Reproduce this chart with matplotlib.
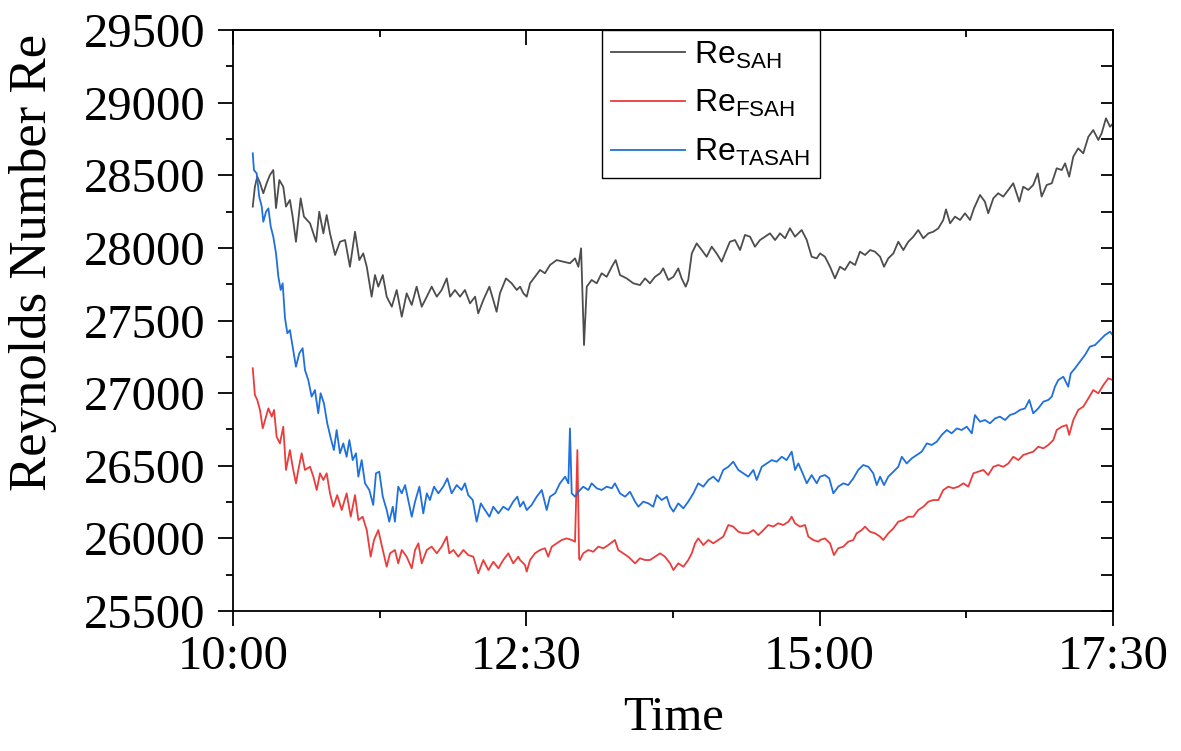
import matplotlib
matplotlib.use("Agg")
import matplotlib.pyplot as plt
from matplotlib.ticker import MultipleLocator

plt.rcParams['font.family'] = 'Liberation Serif'

# minutes after 10:00 and Reynolds number
sah_min = [10.1, 11.2, 12.4, 13.8, 15.5, 17.2, 18.9, 20.6, 22.0, 23.7, 25.7, 27.1, 29.1, 30.5,
           32.2, 34.6, 36.3, 39.4, 42.5, 44.1, 46.2, 47.9, 49.6, 52.2, 54.7, 57.3, 59.8, 62.4,
           64.6, 66.6, 68.4, 70.9, 72.6, 74.3, 76.6, 78.6, 81.2, 83.7, 86.3, 88.8, 91.4, 93.9,
           96.5, 99.1, 101.6, 104.2, 106.7, 109.3, 111.0, 113.5, 116.1, 118.6, 121.2, 123.8,
           125.4, 128.0, 131.1, 133.1, 134.8, 136.5, 139.6, 142.5, 145.1, 146.8, 148.5, 150.2,
           151.9, 154.4, 157.0, 159.5, 162.1, 165.5, 168.9, 172.3, 174.9, 176.6, 178.0, 179.5,
           180.9, 183.4, 186.0, 188.5, 191.1, 193.7, 195.7, 197.9, 201.3, 204.7, 208.1, 210.7,
           213.2, 215.8, 218.4, 220.0, 222.6, 225.2, 227.7, 229.4, 231.5, 232.8, 234.6, 237.1,
           239.7, 242.2, 244.8, 247.3, 249.9, 251.6, 254.1, 256.7, 259.3, 261.8, 264.4, 266.9,
           269.5, 272.0, 274.6, 277.2, 279.7, 282.3, 284.8, 287.4, 290.8, 293.4, 295.9, 298.5,
           300.2, 302.7, 305.3, 307.8, 310.4, 312.9, 315.5, 318.1, 320.6, 323.2, 325.8, 328.3,
           330.9, 332.9, 335.1, 337.7, 340.2, 342.8, 345.3, 347.9, 350.4, 353.0, 355.6, 358.1,
           360.7, 363.2, 364.6, 366.7, 369.2, 371.8, 374.3, 376.9, 378.9, 382.0, 384.5, 386.2,
           388.8, 391.3, 393.9, 396.5, 399.0, 402.1, 404.1, 406.7, 409.2, 411.5, 413.5, 416.1,
           418.7, 421.2, 423.8, 425.5, 427.6, 429.7, 432.2, 434.8, 437.4, 439.9, 442.5, 444.2,
           446.4, 448.5, 450.0]
sah_re = [28284, 28421, 28490, 28447, 28376, 28445, 28502, 28536, 28274, 28467, 28421, 28284, 28330, 28215,
          28042, 28341, 28215, 28169, 28042, 28249, 28100, 28226, 28100, 27951, 28042, 28054, 27870, 28111,
          27916, 27962, 27870, 27664, 27813, 27733, 27813, 27664, 27595, 27710, 27526, 27687, 27607, 27733,
          27595, 27664, 27733, 27664, 27710, 27790, 27664, 27710, 27664, 27710, 27618, 27664,
          27549, 27641, 27733, 27641, 27560, 27687, 27790, 27756, 27710, 27733, 27687, 27664,
          27756, 27801, 27848, 27825, 27882, 27916, 27905, 27894, 27928, 27870, 27997, 27331,
          27733, 27779, 27756, 27825, 27801, 27870, 27916, 27813, 27790, 27756, 27744, 27790,
          27756, 27801, 27825, 27859, 27779, 27801, 27859, 27790, 27733, 27779, 27962, 28031,
          27985, 27939, 28008, 27962, 27905, 27962, 28042, 28054, 27985, 28089, 28077, 28008,
          28054, 28077, 28100, 28054, 28100, 28066, 28135, 28077, 28123, 28054, 27939, 27928,
          27962, 27939, 27870, 27790, 27870, 27848, 27905, 27882, 27974, 27951, 27985, 27974,
          27939, 27870, 27928, 27962, 28042, 27985, 28042, 28077, 28123, 28066, 28100, 28111,
          28135, 28192, 28265, 28169, 28215, 28192, 28238, 28192, 28272, 28364, 28318, 28238,
          28341, 28376, 28353, 28399, 28445, 28318, 28421, 28399, 28433, 28513, 28353, 28433,
          28445, 28548, 28536, 28582, 28490, 28628, 28685, 28651, 28765, 28811, 28743, 28789,
          28892, 28834, 28857]

fsah_min = [10.1, 11.2, 12.4, 13.8, 15.2, 16.4, 18.1, 19.8, 21.0, 22.3, 24.0, 25.7, 27.1, 29.1,
            30.5, 32.2, 33.4, 35.1, 36.8, 39.4, 41.1, 42.8, 44.5, 46.2, 47.9, 49.6, 51.3, 53.3,
            55.6, 58.1, 60.2, 62.4, 64.1, 66.3, 68.4, 70.4, 72.1, 74.3, 76.6, 78.6, 80.3, 82.8,
            84.5, 86.3, 88.8, 91.4, 93.1, 94.8, 96.5, 99.1, 101.6, 104.2, 106.7, 109.3, 110.6,
            112.7, 115.2, 117.8, 120.3, 122.9, 125.4, 128.0, 130.6, 133.1, 135.7, 138.2, 140.8,
            143.3, 145.9, 146.8, 149.3, 150.2, 151.9, 154.4, 157.0, 159.5, 161.2, 163.0, 165.5,
            168.1, 170.6, 173.2, 174.9, 176.1, 177.0, 177.4, 179.1, 181.7, 184.2, 186.8, 189.4,
            191.9, 195.3, 197.0, 199.6, 202.1, 205.6, 208.1, 210.7, 213.2, 215.8, 218.4, 220.9,
            223.5, 225.2, 227.7, 230.3, 232.8, 234.6, 236.3, 237.9, 240.5, 243.1, 245.6, 248.2,
            250.7, 253.3, 255.8, 258.4, 260.9, 263.5, 266.1, 268.6, 271.2, 273.7, 276.3, 278.8,
            281.4, 284.0, 285.7, 287.4, 289.9, 292.5, 294.2, 296.7, 299.3, 300.2, 302.7, 305.3,
            307.3, 309.5, 312.1, 314.6, 317.2, 318.9, 321.5, 323.2, 325.7, 328.3, 330.9, 332.5,
            335.1, 337.7, 340.2, 342.8, 345.3, 347.9, 350.4, 353.0, 355.6, 358.1, 360.7, 363.2,
            365.8, 368.3, 370.9, 373.5, 376.0, 378.6, 381.1, 383.7, 386.2, 388.8, 391.3, 393.9,
            396.5, 399.0, 401.6, 404.1, 406.7, 409.2, 411.8, 414.4, 416.9, 419.5, 421.2, 423.8,
            426.3, 427.6, 429.7, 432.2, 434.8, 437.4, 439.9, 442.5, 445.1, 447.6, 449.8]
fsah_re = [27171, 26987, 26953, 26884, 26758, 26815, 26895, 26838, 26884, 26700, 26654, 26769, 26471, 26608,
           26493, 26379, 26471, 26586, 26471, 26493, 26425, 26333, 26448, 26402, 26448, 26310, 26218, 26298,
           26195, 26310, 26149, 26298, 26126, 26149, 26057, 25874, 25989, 26057, 25920, 25805, 25897, 25920,
           25828, 25920, 25874, 25794, 25920, 25966, 25828, 25920, 25943, 25897, 25943, 26012, 25897,
           25920, 25874, 25920, 25885, 25874, 25759, 25851, 25782, 25839, 25794, 25851, 25897,
           25828, 25874, 25851, 25817, 25771, 25851, 25897, 25920, 25932, 25874, 25943, 25966,
           25989, 26000, 25989, 25977, 26608, 25860, 25851, 25897, 25920, 25908, 25943, 25932,
           25954, 25989, 25920, 25897, 25874, 25828, 25863, 25851, 25851, 25874, 25897, 25874,
           25828, 25782, 25828, 25805, 25851, 25897, 25966, 26000, 25954, 25989, 25966, 25989,
           26012, 26092, 26081, 26046, 26035, 26035, 26057, 26023, 26057, 26092, 26081, 26104,
           26092, 26115, 26149, 26104, 26081, 26092, 26012, 25989, 25977, 25989, 26000, 25966,
           25885, 25932, 25943, 25977, 25989, 26035, 26057, 26081, 26046, 26035, 26012, 25989,
           26035, 26069, 26115, 26126, 26149, 26149, 26195, 26218, 26253, 26264, 26264, 26333,
           26356, 26345, 26356, 26379, 26356, 26448, 26459, 26471, 26436, 26493, 26505, 26493,
           26516, 26562, 26539, 26574, 26586, 26597, 26631, 26620, 26643, 26677, 26746, 26769,
           26780, 26712, 26815, 26884, 26907, 26964, 27021, 26999, 27056, 27102, 27090]

tasah_min = [10.1, 10.7, 12.1, 13.4, 14.7, 15.5, 16.9, 18.1, 19.3, 20.6, 22.0, 23.2, 24.4, 25.4,
             26.6, 27.8, 29.1, 30.8, 32.2, 33.9, 35.6, 36.8, 38.5, 40.2, 41.9, 43.6, 44.8, 46.5,
             48.2, 50.0, 51.6, 53.0, 54.7, 56.4, 58.1, 59.5, 61.2, 62.9, 64.1, 65.8, 67.5, 69.7,
             71.7, 73.1, 74.8, 76.6, 78.6, 79.9, 81.7, 82.8, 84.5, 86.3, 88.0, 89.6, 91.4, 93.1,
             95.3, 97.3, 99.1, 100.7, 102.8, 105.0, 107.5, 109.6, 111.8, 114.4, 116.9, 118.6,
             120.3, 122.6, 124.6, 126.7, 128.9, 131.1, 133.1, 135.7, 138.2, 140.8, 143.3, 145.4,
             146.8, 148.5, 150.2, 152.7, 155.3, 157.9, 160.4, 162.1, 164.7, 167.2, 169.8, 171.5,
             172.3, 173.2, 174.9, 176.6, 179.1, 181.7, 183.4, 186.0, 188.5, 191.1, 193.7, 195.3,
             197.9, 200.5, 203.0, 205.6, 207.3, 209.8, 212.4, 214.9, 216.7, 219.2, 221.8, 223.5,
             225.2, 227.7, 230.3, 232.8, 235.4, 237.9, 240.5, 243.1, 245.6, 248.2, 250.7, 253.3,
             255.8, 258.4, 260.9, 263.5, 266.1, 267.8, 270.4, 272.9, 275.5, 278.0, 280.6, 283.1,
             285.7, 287.4, 289.1, 291.3, 293.4, 295.9, 298.5, 300.2, 302.7, 304.9, 307.0, 309.5,
             312.1, 314.6, 317.2, 319.7, 322.3, 324.9, 327.4, 329.2, 330.9, 332.9, 335.1, 337.7,
             340.2, 342.0, 344.5, 347.1, 349.6, 352.2, 354.8, 357.3, 359.9, 362.4, 365.0, 367.5,
             370.1, 372.6, 375.2, 377.8, 379.4, 382.0, 384.5, 387.1, 389.7, 392.2, 394.8, 397.3,
             399.9, 402.4, 405.0, 407.2, 409.2, 411.8, 414.4, 416.9, 418.7, 420.3, 422.0, 424.6,
             427.1, 428.4, 430.6, 433.1, 435.7, 438.2, 440.8, 443.4, 445.9, 448.5, 449.8]
tasah_re = [28651, 28536, 28513, 28353, 28284, 28180, 28249, 28272, 28146, 28077, 27962, 27801, 27710, 27756,
            27515, 27412, 27434, 27297, 27182, 27274, 27309, 27159, 27090, 26976, 27021, 26861, 26999, 26930,
            26792, 26689, 26608, 26746, 26586, 26654, 26562, 26677, 26539, 26586, 26425, 26539, 26379, 26333,
            26230, 26448, 26459, 26287, 26195, 26115, 26218, 26115, 26356, 26310, 26367, 26264, 26149, 26253,
            26356, 26172, 26310, 26264, 26356, 26310, 26356, 26413, 26310, 26367, 26333, 26379,
            26298, 26264, 26115, 26241, 26195, 26149, 26218, 26172, 26218, 26195, 26253, 26287,
            26218, 26253, 26195, 26230, 26287, 26333, 26195, 26287, 26310, 26379, 26425, 26379,
            26757, 26310, 26287, 26321, 26356, 26333, 26379, 26345, 26333, 26356, 26345, 26379,
            26310, 26287, 26321, 26253, 26218, 26253, 26241, 26218, 26298, 26264, 26287, 26218,
            26184, 26241, 26207, 26253, 26310, 26379, 26356, 26402, 26425, 26390, 26471, 26493,
            26528, 26471, 26448, 26425, 26471, 26402, 26493, 26516, 26539, 26528, 26562, 26539,
            26597, 26471, 26516, 26448, 26379, 26436, 26379, 26425, 26436, 26413, 26310, 26356,
            26379, 26367, 26413, 26471, 26505, 26493, 26448, 26367, 26425, 26367, 26425, 26459,
            26493, 26562, 26516, 26551, 26574, 26597, 26654, 26643, 26666, 26712, 26746, 26723,
            26757, 26746, 26769, 26723, 26849, 26803, 26815, 26792, 26826, 26838, 26815, 26849,
            26861, 26884, 26895, 26953, 26861, 26895, 26941, 26953, 26976, 27044, 27090, 27113,
            27044, 27136, 27171, 27217, 27263, 27320, 27331, 27366, 27400, 27423, 27400]

time_ticks = [0, 150, 300, 450]
time_labels = ['10:00', '12:30', '15:00', '17:30']

fig = plt.figure(figsize=(11.81, 7.51), dpi=100)
ax = fig.add_axes([233/1181, 1 - 611/751, 880/1181, 581/751])

ax.plot(sah_min, sah_re, color='#4d4d4d', lw=1.3, label=r'$\mathregular{Re_{SAH}}$')
ax.plot(fsah_min, fsah_re, color='#eb3c3c', lw=1.3, label=r'$\mathregular{Re_{FSAH}}$')
ax.plot(tasah_min, tasah_re, color='#1f6fdc', lw=1.3, label=r'$\mathregular{Re_{TASAH}}$')

ax.set_xlim(0, 450)
ax.set_ylim(25500, 29500)
ax.set_xticks(time_ticks, labels=time_labels)
ax.xaxis.set_minor_locator(MultipleLocator(75))
ax.yaxis.set_major_locator(MultipleLocator(500))
ax.yaxis.set_minor_locator(MultipleLocator(250))
ax.tick_params(which='major', direction='out', length=11, width=1.3, labelsize=35, pad=6)
ax.tick_params(which='minor', direction='out', length=5, width=1.3)
ax.tick_params(axis='y', pad=9)
for s in ax.spines.values():
    s.set_linewidth(1.3)

# mirrored ticks on top and right, pointing inward
top = ax.secondary_xaxis('top')
top.set_xticks(time_ticks, labels=[])
top.xaxis.set_minor_locator(MultipleLocator(75))
top.tick_params(which='major', direction='in', length=11, width=1.3)
top.tick_params(which='minor', direction='in', length=5, width=1.3)
right = ax.secondary_yaxis('right')
right.yaxis.set_major_locator(MultipleLocator(500))
right.yaxis.set_minor_locator(MultipleLocator(250))
right.set_yticklabels([])
right.tick_params(which='both', direction='in', length=9, width=1.3)
top.spines['top'].set_linewidth(1.3)
right.spines['right'].set_linewidth(1.3)

ax.set_xlabel('Time', fontsize=35)
ax.xaxis.set_label_coords(0.5, -0.147)
ax.set_ylabel('Reynolds Number Re', fontsize=38)
ax.yaxis.set_label_coords(-0.2, 0.6)

leg = ax.legend(loc='upper left', bbox_to_anchor=(0.419, 1.0), borderaxespad=0,
                prop={'family': 'Liberation Sans', 'size': 23}, handlelength=2.3,
                handletextpad=0.3, labelspacing=0.55, borderpad=0.3, fancybox=False,
                framealpha=1, edgecolor='black')
leg.get_frame().set_linewidth(1.0)

fig.savefig('out.png', dpi=100)
